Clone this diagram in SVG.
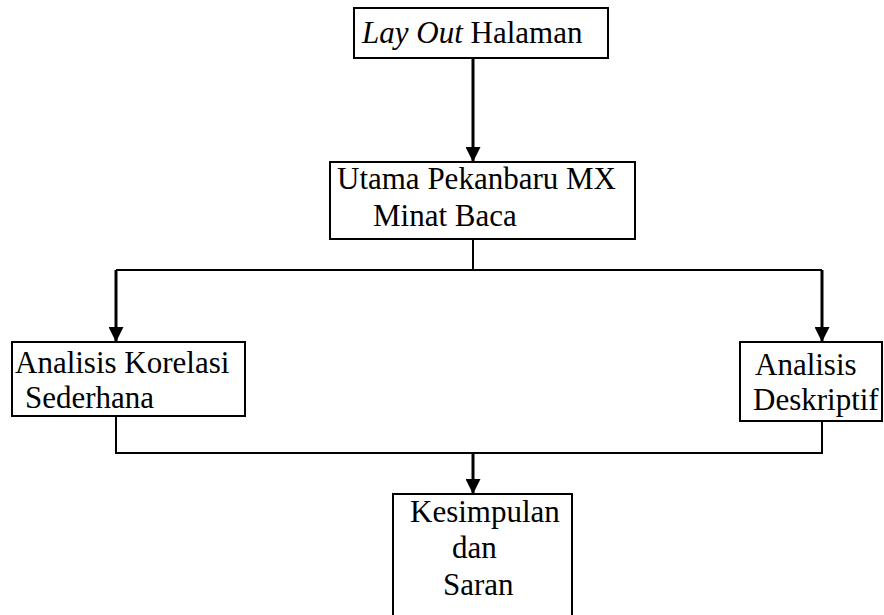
<svg xmlns="http://www.w3.org/2000/svg" width="884" height="615" viewBox="0 0 884 615">
<defs>
<marker id="ah" markerUnits="userSpaceOnUse" markerWidth="16" markerHeight="15" refX="16" refY="8" orient="auto" viewBox="0 0 16 16">
<path d="M0,0 L16,8 L0,16 Z" fill="#000"/>
</marker>
<style>
.box{fill:#fff;stroke:#000;stroke-width:2}
.t{font-family:"Liberation Serif","Times New Roman",serif;font-size:31px;fill:#000}
.ln{fill:none;stroke:#000;stroke-width:2}
.ar{fill:none;stroke:#000;stroke-width:3;marker-end:url(#ah)}
</style>
</defs>
<rect width="884" height="615" fill="#fff"/>
<g id="connectors">
<line class="ar" x1="473" y1="58" x2="473" y2="162"/>
<path class="ln" d="M473,240 V270 M116,270 H822"/>
<line class="ar" x1="116" y1="270" x2="116" y2="342"/>
<line class="ar" x1="822" y1="270" x2="822" y2="342"/>
<path class="ln" d="M116,416 V453 H822 V421"/>
<line class="ar" x1="473" y1="453" x2="473" y2="494"/>
</g>
<g id="n1">
<rect class="box" x="354" y="8" width="254" height="50"/>
<text class="t" x="362" y="43"><tspan font-style="italic">Lay Out</tspan> Halaman</text>
</g>
<g id="n2">
<rect class="box" x="330" y="162" width="305" height="77"/>
<text class="t" x="337" y="189">Utama Pekanbaru MX</text>
<text class="t" x="373" y="226">Minat Baca</text>
</g>
<g id="n3">
<rect class="box" x="12" y="342" width="233" height="74"/>
<text class="t" x="15" y="373">Analisis Korelasi</text>
<text class="t" x="25" y="408">Sederhana</text>
</g>
<g id="n4">
<rect class="box" x="740" y="342" width="142" height="79"/>
<text class="t" x="755" y="375">Analisis</text>
<text class="t" x="753" y="410">Deskriptif</text>
</g>
<g id="n5">
<rect class="box" x="393" y="494" width="179" height="130"/>
<text class="t" x="410" y="522">Kesimpulan</text>
<text class="t" x="452" y="558">dan</text>
<text class="t" x="443" y="595">Saran</text>
</g>
</svg>
